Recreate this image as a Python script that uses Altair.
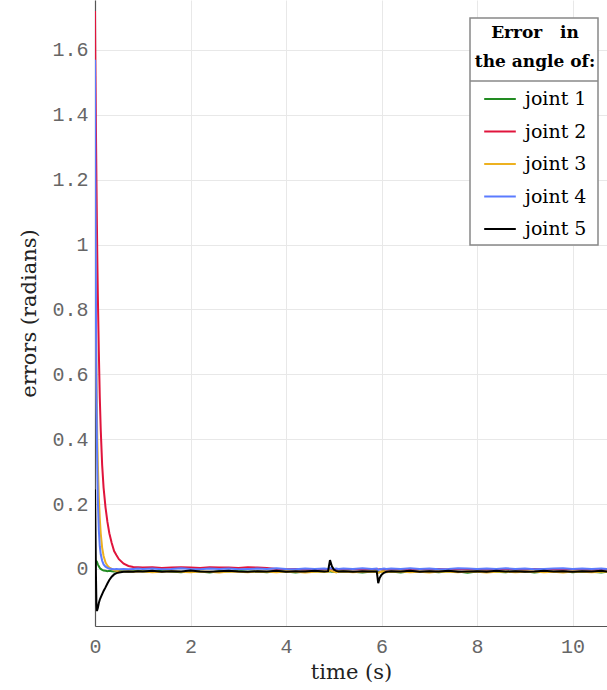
import altair as alt
import pandas as pd

# ---------------- data ----------------
time_s = [
    0, 0.01, 0.02, 0.03, 0.04, 0.05, 0.06, 0.08, 0.1, 0.12, 0.15, 0.18, 0.22, 0.26, 0.3, 0.35, 0.4, 0.45, 0.5, 0.6, 0.7, 0.8, 0.9,
    1.0, 1.2, 1.4, 1.6, 1.8, 2.0, 2.2, 2.4, 2.6, 2.8, 3.0, 3.2, 3.4, 3.6, 3.8, 4.0, 4.2, 4.4, 4.6, 4.8,
    4.88, 4.92, 4.96, 5.0, 5.05, 5.1,
    5.2, 5.4, 5.6, 5.8,
    5.9, 5.93, 5.96, 6.0, 6.05, 6.1,
    6.2, 6.4, 6.6, 6.8, 7.0, 7.2, 7.4, 7.6, 7.8, 8.0, 8.2, 8.4, 8.6, 8.8, 9.0, 9.2, 9.4, 9.6, 9.8, 10.0, 10.2, 10.4, 10.6,
    10.72,
]

joint_1 = [
    0.0, 0.02, 0.025, 0.024, 0.022, 0.018, 0.014, 0.008, 0.003, 0.0, -0.003, -0.005, -0.006, -0.007, -0.006, -0.007, -0.008, -0.007, -0.006, -0.007, -0.008, -0.007, -0.006,
    -0.007, -0.009, -0.006, -0.008, -0.010, -0.007, -0.008, -0.011, -0.007, -0.008, -0.006, -0.009, -0.008, -0.010, -0.007, -0.008, -0.011, -0.008, -0.007, -0.009,
    -0.008, -0.007, -0.009, -0.008, -0.010, -0.008,
    -0.007, -0.009, -0.011, -0.008,
    -0.008, -0.009, -0.010, -0.008, -0.007, -0.009,
    -0.008, -0.011, -0.007, -0.009, -0.008, -0.010, -0.007, -0.008, -0.012, -0.008, -0.007, -0.009, -0.010, -0.008, -0.007, -0.011, -0.008, -0.009, -0.007, -0.010, -0.008, -0.009, -0.011,
    -0.009,
]

joint_2 = [
    1.72, 1.52, 1.35, 1.20, 1.06, 0.94, 0.84, 0.67, 0.53, 0.43, 0.32, 0.25, 0.19, 0.145, 0.11, 0.08, 0.055, 0.042, 0.03, 0.016, 0.009, 0.006, 0.005,
    0.004, 0.005, 0.003, 0.004, 0.005, 0.004, 0.003, 0.005, 0.004, 0.004, 0.003, 0.005, 0.004, 0.003, 0.0, -0.001, 0.0, -0.002, -0.001, 0.0,
    -0.001, 0.0, -0.001, -0.002, 0.0, -0.001,
    -0.001, 0.0, -0.002, -0.001,
    0.0, -0.002, -0.001, 0.0, -0.001, -0.002,
    -0.001, 0.0, -0.002, -0.001, -0.001, 0.0, -0.002, -0.001, 0.0, -0.001, -0.002, -0.001, 0.0, -0.001, -0.002, 0.0, -0.001, -0.001, -0.002, 0.0, -0.001, -0.002, -0.001,
    -0.001,
]

joint_3 = [
    1.25, 0.95, 0.75, 0.60, 0.48, 0.39, 0.32, 0.22, 0.155, 0.11, 0.065, 0.04, 0.02, 0.01, 0.004, 0.0, -0.004, -0.006, -0.007, -0.008, -0.007, -0.009, -0.008,
    -0.008, -0.010, -0.009, -0.007, -0.009, -0.010, -0.008, -0.009, -0.011, -0.008, -0.009, -0.010, -0.008, -0.009, -0.010, -0.008, -0.009, -0.011, -0.009, -0.008,
    -0.009, -0.004, -0.007, -0.009, -0.010, -0.009,
    -0.008, -0.010, -0.009, -0.008,
    -0.009, -0.012, -0.010, -0.009, -0.008, -0.010,
    -0.009, -0.008, -0.010, -0.009, -0.011, -0.008, -0.009, -0.010, -0.008, -0.009, -0.011, -0.009, -0.008, -0.010, -0.009, -0.008, -0.010, -0.009, -0.011, -0.008, -0.009, -0.010, -0.009,
    -0.009,
]

joint_4 = [
    1.57, 1.10, 0.78, 0.56, 0.40, 0.29, 0.21, 0.12, 0.07, 0.045, 0.025, 0.014, 0.007, 0.003, 0.001, 0.0, -0.001, 0.0, -0.001, 0.0, -0.001, 0.0, 0.001,
    0.0, 0.001, -0.001, 0.0, 0.002, 0.0, -0.001, 0.001, 0.0, 0.001, -0.001, 0.0, 0.001, 0.0, 0.002, 0.0, -0.001, 0.001, 0.0, 0.001,
    0.0, 0.003, 0.001, 0.0, 0.001, 0.0,
    0.001, 0.0, 0.002, 0.0,
    0.001, -0.004, -0.001, 0.0, 0.001, 0.0,
    0.001, 0.0, 0.002, 0.0, 0.001, -0.001, 0.0, 0.002, 0.001, 0.0, 0.001, 0.0, 0.002, 0.0, 0.001, -0.001, 0.0, 0.001, 0.002, 0.0, 0.001, 0.0, 0.001,
    0.0,
]

joint_5 = [
    0.245, 0.12, -0.02, -0.11, -0.13, -0.125, -0.12, -0.105, -0.095, -0.088, -0.078, -0.068, -0.057, -0.045, -0.034, -0.024, -0.017, -0.013, -0.011, -0.009, -0.008, -0.009, -0.007,
    -0.008, -0.006, -0.009, -0.007, -0.008, -0.005, -0.008, -0.009, -0.007, -0.006, -0.008, -0.009, -0.007, -0.008, -0.006, -0.009, -0.007, -0.008, -0.006, -0.008,
    -0.007, 0.027, 0.008, -0.002, -0.006, -0.008,
    -0.007, -0.009, -0.007, -0.008,
    -0.008, -0.044, -0.028, -0.018, -0.012, -0.009,
    -0.007, -0.008, -0.006, -0.009, -0.007, -0.008, -0.006, -0.009, -0.008, -0.007, -0.009, -0.006, -0.008, -0.007, -0.009, -0.008, -0.006, -0.008, -0.007, -0.009, -0.007, -0.008, -0.006,
    -0.008,
]

series_names = ["joint 1", "joint 2", "joint 3", "joint 4", "joint 5"]
series_colors = ["#228b22", "#e0143c", "#edb120", "#5b7bff", "#000000"]

x_ticks = [0, 2, 4, 6, 8, 10]
y_ticks = [0, 0.2, 0.4, 0.6, 0.8, 1.0, 1.2, 1.4, 1.6]

legend_title = ["Error\u00a0\u00a0\u00a0in", "the angle of:"]

# ---------------- table ----------------
wide = pd.DataFrame({
    "time": time_s,
    "joint 1": joint_1,
    "joint 2": joint_2,
    "joint 3": joint_3,
    "joint 4": joint_4,
    "joint 5": joint_5,
})
long = wide.melt(id_vars="time", var_name="joint", value_name="error")

SERIF = "DejaVu Serif"
MONO = "Liberation Mono"

lines = alt.Chart(long).mark_line(strokeWidth=2, clip=True).encode(
    x=alt.X(
        "time:Q",
        scale=alt.Scale(domain=[0, 10.72], nice=False, zero=False),
        axis=alt.Axis(
            title="time (s)", values=x_ticks, format="d",
            labelFont=MONO, labelFontSize=20, labelColor="#666", labelPadding=10,
            titleFont=SERIF, titleFontSize=21, titleFontWeight="normal", titleColor="#222",
            titlePadding=5, ticks=False, domainColor="#555", domainWidth=1.2,
            gridColor="#e8e8e8", gridWidth=1, labelFlush=False,
        ),
    ),
    y=alt.Y(
        "error:Q",
        scale=alt.Scale(domain=[-0.176, 1.754], nice=False, zero=False),
        axis=alt.Axis(
            title="errors (radians)", values=y_ticks, format="~g",
            labelFont=MONO, labelFontSize=20, labelColor="#666", labelPadding=7,
            titleFont=SERIF, titleFontSize=21, titleFontWeight="normal", titleColor="#222",
            titlePadding=12, ticks=False, domainColor="#555", domainWidth=1.2,
            gridColor="#e8e8e8", gridWidth=1,
        ),
    ),
    color=alt.Color(
        "joint:N",
        scale=alt.Scale(domain=series_names, range=series_colors),
        legend=alt.Legend(
            title=legend_title, orient="none", legendX=375, legendY=20,
            direction="vertical", symbolType="stroke", symbolSize=1000,
            symbolStrokeWidth=2, labelFont=SERIF, labelFontSize=19, labelColor="black",
            titleFont=SERIF, titleFontSize=17, titleFontWeight="bold", titleColor="black",
            titleAlign="center", titleAnchor="middle", titleLineHeight=29,
            titlePadding=11, rowPadding=5.5, padding=5, labelOffset=8,
        ),
    ),
)

# legend box background, frame and the divider under its title
legend_box = alt.Chart(pd.DataFrame({"d": [0]})).mark_rect(
    fill="white", stroke="#888", strokeWidth=1.5
).encode(x=alt.value(375), x2=alt.value(503), y=alt.value(18), y2=alt.value(245))

divider = alt.Chart(pd.DataFrame({"d": [0]})).mark_rule(color="#888", strokeWidth=1.5).encode(
    x=alt.value(375), x2=alt.value(503), y=alt.value(81)
)

chart = alt.layer(lines, legend_box, divider).properties(
    width=512,
    height=626,
    autosize=alt.AutoSizeParams(type="none"),
    padding={"left": 95, "top": 0, "right": 0, "bottom": 64},
).configure_view(stroke=None)

chart.save("out.html", embed_options={"renderer": "svg", "actions": False})
